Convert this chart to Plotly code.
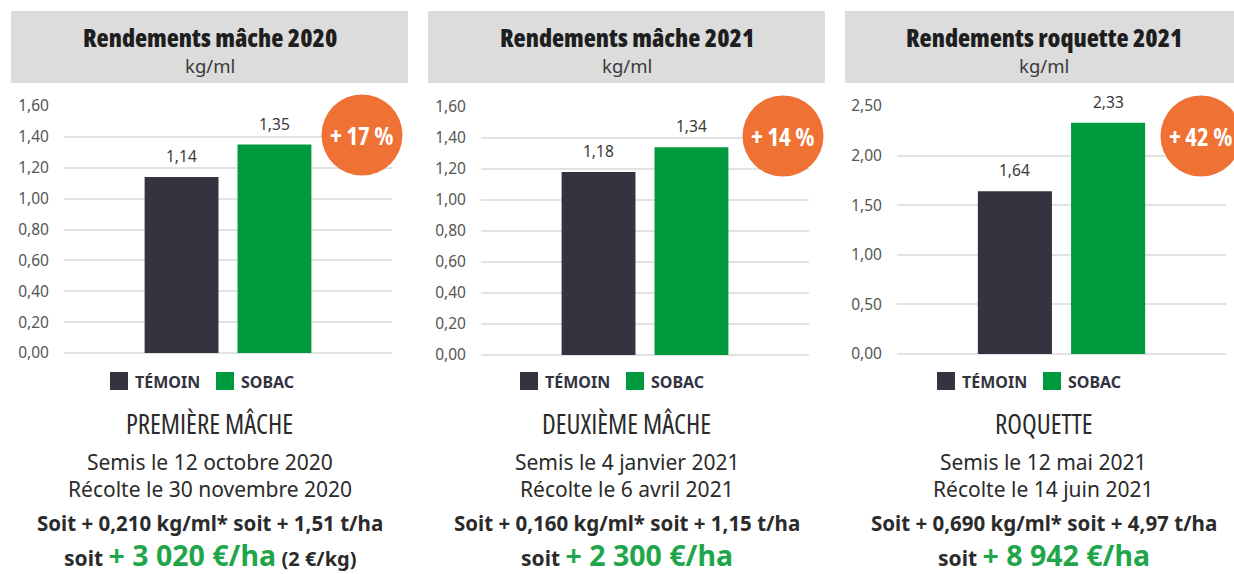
import plotly.graph_objects as go

# ---------------- data ----------------
categories = ["TÉMOIN", "SOBAC"]
temoin = [1.14, 1.18, 1.64]
sobac = [1.35, 1.34, 2.33]
titles = ["Rendements mâche 2020", "Rendements mâche 2021", "Rendements roquette 2021"]
unit = "kg/ml"
gains = ["+ 17 %", "+ 14 %", "+ 42 %"]
y_max = [1.6, 1.6, 2.5]
y_step = [0.2, 0.2, 0.5]
crops = ["PREMIÈRE MÂCHE", "DEUXIÈME MÂCHE", "ROQUETTE"]
semis = ["Semis le 12 octobre 2020", "Semis le 4 janvier 2021", "Semis le 12 mai 2021"]
recolte = ["Récolte le 30 novembre 2020", "Récolte le 6 avril 2021", "Récolte le 14 juin 2021"]
extra_kg = ["0,210", "0,160", "0,690"]
extra_t = ["1,51", "1,15", "4,97"]
euros = ["3 020", "2 300", "8 942"]
price_note = ["(2 €/kg)", "", ""]

# ---------------- style ----------------
W, H = 1234, 574
C_TEMOIN = "#35333f"
C_SOBAC = "#009a3e"
C_ORANGE = "#f07134"
C_GREEN_TXT = "#1fa64b"
C_HEADER = "#dcdcdd"
C_TEXT = "#2b2b2b"
BASE_FONT = "Noto Sans, Open Sans, sans-serif"
COND_FONT = "Open Sans"

header_left = [11, 428, 845]
header_w = 397
plot_x = [(64, 392), (481, 809), (897, 1226)]
plot_y = [(106, 353), (107, 355), (106, 354)]
circle_c = [(362, 135), (783, 136), (1201, 136)]
legend_left = [110, 520, 937]


def px(x):
    return x / W


def py(y):
    return 1 - y / H


def cond(txt):
    return f"<span style='font-stretch:75%'>{txt}</span>"


fig = go.Figure()
shapes = []
annotations = []

for i in range(3):
    xa = "x" if i == 0 else f"x{i+1}"
    ya = "y" if i == 0 else f"y{i+1}"
    fig.add_trace(go.Bar(
        x=categories,
        y=[temoin[i], sobac[i]],
        marker=dict(color=[C_TEMOIN, C_SOBAC], line=dict(width=0)),
        width=0.795,
        xaxis=xa, yaxis=ya,
        showlegend=False,
        hoverinfo="x+y",
    ))
    xkey = "xaxis" if i == 0 else f"xaxis{i+1}"
    ykey = "yaxis" if i == 0 else f"yaxis{i+1}"
    x0, x1 = plot_x[i]
    y0, y1 = plot_y[i]
    fig.update_layout(**{
        xkey: dict(domain=[px(x0), px(x1)], anchor=ya, range=[-1.265, 2.265],
                   showticklabels=False, showgrid=False, zeroline=False,
                   showline=False, fixedrange=True, automargin=False),
        ykey: dict(domain=[py(y1), py(y0)], anchor=xa, range=[0, y_max[i]],
                   dtick=y_step[i], tick0=0, tickformat=".2f",
                   showgrid=True, gridcolor="#e2e2e2", gridwidth=1.6,
                   zeroline=True, zerolinecolor="#e2e2e2", zerolinewidth=1.6,
                   showline=False, ticks="", ticklabelstandoff=14,
                   tickfont=dict(family=BASE_FONT, size=15.5, color="#555555"),
                   fixedrange=True, automargin=False),
    })

    for cat, v in zip(categories, [temoin[i], sobac[i]]):
        annotations.append(dict(
            x=cat, y=v, xref=xa, yref=ya, yanchor="bottom", yshift=8,
            text=f"{v:.2f}".replace(".", ","), showarrow=False,
            font=dict(family=BASE_FONT, size=15.5, color="#3a3a3a"),
        ))

    hl = header_left[i]
    shapes.append(dict(type="rect", xref="paper", yref="paper",
                       x0=px(hl), x1=px(hl + header_w), y0=py(83), y1=py(11),
                       fillcolor=C_HEADER, line=dict(width=0), layer="below"))
    cx = hl + header_w / 2
    annotations.append(dict(x=px(cx), y=py(37), xref="paper", yref="paper",
                            text=cond(titles[i]), showarrow=False,
                            xanchor="center", yanchor="middle",
                            font=dict(family=COND_FONT, size=25, weight=800, color="#1e1e1e")))
    annotations.append(dict(x=px(cx), y=py(66), xref="paper", yref="paper",
                            text=unit, showarrow=False,
                            xanchor="center", yanchor="middle",
                            font=dict(family=BASE_FONT, size=18.5, color="#3a3a3a")))

    ccx, ccy = circle_c[i]
    shapes.append(dict(type="circle", xref="paper", yref="paper",
                       xsizemode="pixel", ysizemode="pixel",
                       xanchor=px(ccx), yanchor=py(ccy),
                       x0=-40.5, x1=40.5, y0=-40.5, y1=40.5,
                       fillcolor=C_ORANGE, line=dict(width=0), layer="above"))
    annotations.append(dict(x=px(ccx), y=py(ccy), xref="paper", yref="paper",
                            text=cond(gains[i]), showarrow=False,
                            xanchor="center", yanchor="middle",
                            font=dict(family=COND_FONT, size=25, weight=700, color="white")))

    lx = legend_left[i]
    for j, (cat, col) in enumerate(zip(categories, [C_TEMOIN, C_SOBAC])):
        sx = lx + j * 106
        shapes.append(dict(type="rect", xref="paper", yref="paper",
                           x0=px(sx), x1=px(sx + 18), y0=py(390), y1=py(372),
                           fillcolor=col, line=dict(width=0)))
        annotations.append(dict(x=px(sx + 23), y=py(381.5), xref="paper", yref="paper",
                                text=f"<b>{cat}</b>", showarrow=False,
                                xanchor="left", yanchor="middle",
                                font=dict(family=BASE_FONT, size=16, color="#333340")))

    annotations.append(dict(x=px(cx), y=py(423), xref="paper", yref="paper",
                            text=cond(crops[i]), showarrow=False,
                            xanchor="center", yanchor="middle",
                            font=dict(family=COND_FONT, size=27, weight=400, color="#2a2a2a")))
    annotations.append(dict(x=px(cx), y=py(462), xref="paper", yref="paper",
                            text=semis[i], showarrow=False,
                            xanchor="center", yanchor="middle",
                            font=dict(family=BASE_FONT, size=21, color=C_TEXT)))
    annotations.append(dict(x=px(cx), y=py(489), xref="paper", yref="paper",
                            text=recolte[i], showarrow=False,
                            xanchor="center", yanchor="middle",
                            font=dict(family=BASE_FONT, size=21, color=C_TEXT)))
    annotations.append(dict(x=px(cx), y=py(522.5), xref="paper", yref="paper",
                            text=f"<b>Soit + {extra_kg[i]} kg/ml* soit + {extra_t[i]} t/ha</b>",
                            showarrow=False, xanchor="center", yanchor="middle",
                            font=dict(family=BASE_FONT, size=20.5, color=C_TEXT)))
    note = f" <span style='font-size:20px'>{price_note[i]}</span>" if price_note[i] else ""
    annotations.append(dict(x=px(cx), y=py(555), xref="paper", yref="paper",
                            text=(f"<b>soit <span style='font-size:28.5px;color:{C_GREEN_TXT}'>"
                                  f"+ {euros[i]} €/ha</span>{note}</b>"),
                            showarrow=False, xanchor="center", yanchor="middle",
                            font=dict(family=BASE_FONT, size=21, color=C_TEXT)))

fig.update_layout(
    width=W, height=H,
    margin=dict(l=0, r=0, t=0, b=0, autoexpand=False),
    paper_bgcolor="white", plot_bgcolor="rgba(0,0,0,0)",
    separators=", ",
    font=dict(family=BASE_FONT),
    shapes=shapes,
    annotations=annotations,
    showlegend=False,
)

fig.write_html("out.html", config={"displayModeBar": False},
               post_script="document.body.style.margin='0';document.body.style.overflow='hidden';")
